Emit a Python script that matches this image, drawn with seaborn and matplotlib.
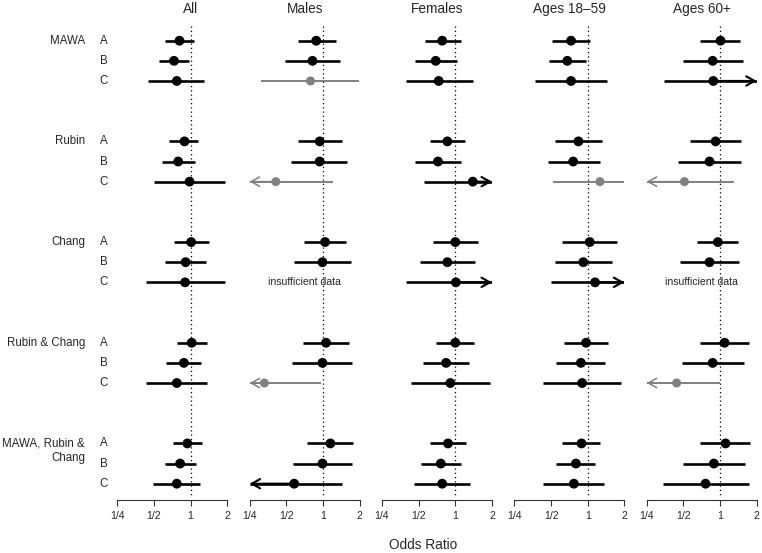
import numpy as np
import pandas as pd
import matplotlib
matplotlib.use("Agg")
import matplotlib.pyplot as plt
import matplotlib.transforms as mtransforms
from matplotlib.ticker import NullLocator
import seaborn as sns

# ---- data (odds ratios) ----
groups = ["MAWA", "Rubin", "Chang", "Rubin & Chang", "MAWA, Rubin &\nChang"]
rows = ["A", "B", "C"]
panels = ["All", "Males", "Females", "Ages 18\u201359", "Ages 60+"]

all_est = [0.81, 0.73, 0.77, 0.89, 0.79, 0.98, 1.01, 0.91, 0.90, 1.02, 0.88, 0.77, 0.94, 0.82, 0.77]
all_lo = [0.62, 0.55, 0.45, 0.67, 0.58, 0.50, 0.73, 0.62, 0.43, 0.77, 0.63, 0.43, 0.72, 0.62, 0.49]
all_hi = [1.06, 0.97, 1.29, 1.16, 1.08, 1.93, 1.41, 1.33, 1.92, 1.36, 1.21, 1.37, 1.24, 1.11, 1.19]

male_est = [0.88, 0.82, 0.79, 0.94, 0.94, 0.41, 1.04, 0.99, None, 1.06, 0.99, 0.33, 1.15, 0.99, 0.58]
male_lo = [0.62, 0.49, 0.31, 0.62, 0.55, 0.20, 0.70, 0.58, None, 0.68, 0.56, 0.20, 0.74, 0.57, 0.20]
male_hi = [1.27, 1.38, 1.99, 1.43, 1.58, 1.21, 1.55, 1.71, None, 1.64, 1.73, 0.97, 1.78, 1.73, 1.44]

fem_est = [0.78, 0.69, 0.73, 0.86, 0.72, 1.39, 1.00, 0.86, 1.01, 1.00, 0.84, 0.91, 0.87, 0.76, 0.78]
fem_lo = [0.56, 0.47, 0.39, 0.62, 0.47, 0.55, 0.66, 0.51, 0.39, 0.70, 0.54, 0.43, 0.62, 0.52, 0.46]
fem_hi = [1.11, 1.03, 1.39, 1.21, 1.11, 2.50, 1.54, 1.46, 2.50, 1.43, 1.30, 1.93, 1.23, 1.11, 1.32]

young_est = [0.73, 0.68, 0.73, 0.84, 0.76, 1.26, 1.04, 0.92, 1.15, 0.97, 0.88, 0.90, 0.89, 0.80, 0.77]
young_lo = [0.51, 0.48, 0.37, 0.54, 0.47, 0.52, 0.62, 0.54, 0.50, 0.64, 0.55, 0.43, 0.62, 0.55, 0.43]
young_hi = [1.04, 0.97, 1.44, 1.32, 1.26, 2.00, 1.75, 1.57, 2.50, 1.47, 1.38, 1.88, 1.27, 1.15, 1.37]

old_est = [1.01, 0.87, 0.88, 0.92, 0.82, 0.51, 0.96, 0.82, None, 1.09, 0.87, 0.44, 1.11, 0.89, 0.76]
old_lo = [0.69, 0.50, 0.35, 0.57, 0.45, 0.20, 0.65, 0.47, None, 0.69, 0.49, 0.20, 0.69, 0.50, 0.34]
old_hi = [1.47, 1.54, 2.50, 1.48, 1.48, 1.29, 1.40, 1.43, None, 1.72, 1.57, 1.00, 1.77, 1.59, 1.73]

# estimates shown in grey (unreliable)
grey_rows = {"Males": [2, 5, 11], "Ages 18\u201359": [5], "Ages 60+": [5, 11]}

panel_data = {
    "All": (all_est, all_lo, all_hi),
    "Males": (male_est, male_lo, male_hi),
    "Females": (fem_est, fem_lo, fem_hi),
    "Ages 18\u201359": (young_est, young_lo, young_hi),
    "Ages 60+": (old_est, old_lo, old_hi),
}

XMIN, XMAX = 0.25, 2.0

sns.set_theme(style="white")
plt.rcParams['font.family'] = ['Liberation Sans', 'DejaVu Sans']

W, H = 762, 553
fig = plt.figure(figsize=(W / 100, H / 100), dpi=100)

slots = [g * 5 + r for g in range(len(groups)) for r in range(len(rows))]

axes = []
for i, name in enumerate(panels):
    left = 117.3 + 132.35 * i
    ax = fig.add_axes([left / W, 1 - 500 / H, 110 / W, 474 / H])
    axes.append(ax)
    est, lo, hi = panel_data[name]
    df = pd.DataFrame({"est": est, "lo": lo, "hi": hi, "y": slots})
    df["grey"] = False
    df.loc[grey_rows.get(name, []), "grey"] = True

    ax.set_xscale("log", base=2)
    ax.set_xlim(XMIN, XMAX)
    ax.set_ylim(22.81, -0.73)

    # reference line at OR = 1
    ax.plot([1, 1], [-0.73, 22.65], color="black", lw=0.9,
            linestyle=(0, (1, 2.4)), zorder=1)

    for _, r in df.iterrows():
        if pd.isna(r["est"]):
            ax.text(np.sqrt(XMIN * XMAX), r["y"], "insufficient data",
                    ha="center", va="center", fontsize=7.6)
            continue
        c = "0.5" if r["grey"] else "black"
        lw = 1.4 if r["grey"] else 1.9
        x0 = max(r["lo"], XMIN)
        x1 = min(r["hi"], XMAX)
        ax.plot([x0, x1], [r["y"], r["y"]], color=c, lw=lw,
                solid_capstyle="butt", zorder=2)
        astyle = "->,head_length=0.5,head_width=0.28"
        for edge, out in ((XMIN, r["lo"] < XMIN), (XMAX, r["hi"] > XMAX)):
            if out:
                ax.annotate("", xy=(edge, r["y"]), xytext=(r["est"], r["y"]),
                            arrowprops=dict(arrowstyle=astyle, color=c,
                                            lw=lw * 0.8, shrinkA=0, shrinkB=0))

    pts = df.dropna(subset=["est"])
    black = pts[~pts["grey"]]
    grey = pts[pts["grey"]]
    sns.scatterplot(data=black, x="est", y="y", ax=ax, color="black", s=50,
                    edgecolor="none", zorder=3, legend=False)
    if len(grey):
        sns.scatterplot(data=grey, x="est", y="y", ax=ax, color="0.5", s=42,
                        edgecolor="none", zorder=3, legend=False)

    ax.set_xlim(XMIN, XMAX)
    ax.set_ylim(22.81, -0.73)
    ax.set_xlabel("")
    ax.set_ylabel("")
    ax.set_yticks([])
    ax.set_xticks([0.25, 0.5, 1, 2])
    ax.set_xticklabels(["1/4", "1/2", "1", "2"], fontsize=7.6)
    ax.xaxis.set_minor_locator(NullLocator())
    ax.tick_params(axis="x", bottom=True, length=4, width=0.8, pad=4,
                   color="0.2")
    for s in ["left", "right", "top"]:
        ax.spines[s].set_visible(False)
    ax.spines["bottom"].set_color("0.2")
    ax.spines["bottom"].set_linewidth(0.8)
    ax.patch.set_alpha(0)

    tx = (191 - left) / 110 if i == 0 else 0.5
    ax.set_title(name, fontsize=9.8, pad=9.5, x=tx)

# row and group labels on the left
trans = mtransforms.blended_transform_factory(fig.transFigure, axes[0].transData)
for g, gname in enumerate(groups):
    for r, rname in enumerate(rows):
        axes[0].text(104 / W, g * 5 + r, rname, transform=trans,
                     ha="center", va="center", fontsize=8.3)
    for k, line in enumerate(gname.split("\n")):
        axes[0].text(85 / W, g * 5 + 0.7 * k, line, transform=trans,
                     ha="right", va="center", fontsize=8.3)

fig.text(423 / W, 1 - 545 / H, "Odds Ratio", ha="center", va="center",
         fontsize=9.8)

fig.savefig("out.png", dpi=100)
